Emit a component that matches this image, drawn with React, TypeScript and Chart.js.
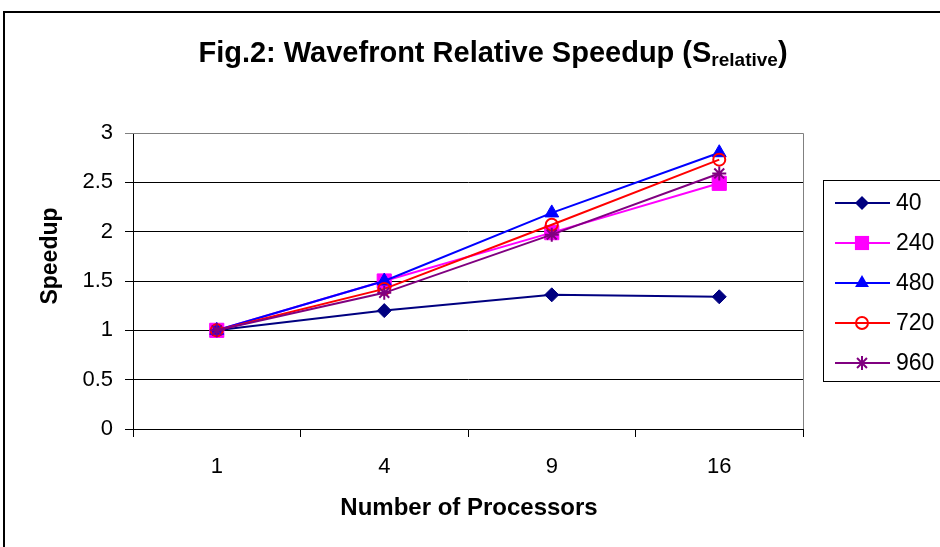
import React, { useEffect, useRef } from 'react';
import { Chart, registerables } from 'chart.js';

Chart.register(...registerables);

// ---- data ----
const categories = ['1', '4', '9', '16'];
const seriesNames = ['40', '240', '480', '720', '960'];
const s40 = [1, 1.2, 1.36, 1.34];
const s240 = [1, 1.5, 1.99, 2.49];
const s480 = [1, 1.5, 2.19, 2.8];
const s720 = [1, 1.42, 2.07, 2.73];
const s960 = [1, 1.38, 1.97, 2.59];
const seriesValues = [s40, s240, s480, s720, s960];
const seriesColors = ['#000080', '#FF00FF', '#0000FF', '#FF0000', '#800080'];
const seriesMarkers = ['rectRot', 'rect', 'triangle', 'circle', 'star'];
const seriesRadius = [7, 10, 8, 6, 7];
const yMin = 0;
const yMax = 3;
const yStep = 0.5;

const titleMain = 'Fig.2: Wavefront Relative Speedup (S';
const titleSub = 'relative';
const titleEnd = ')';
const xTitle = 'Number of Processors';
const yTitle = 'Speedup';

const FONT = '"Liberation Sans", Arial, sans-serif';

function drawMarker(ctx: CanvasRenderingContext2D, style: string, x: number, y: number, r: number, color: string) {
  ctx.save();
  ctx.strokeStyle = color;
  ctx.fillStyle = color;
  ctx.lineWidth = 2;
  ctx.beginPath();
  if (style === 'rectRot') {
    ctx.moveTo(x, y - r);
    ctx.lineTo(x + r, y);
    ctx.lineTo(x, y + r);
    ctx.lineTo(x - r, y);
    ctx.closePath();
    ctx.fill();
  } else if (style === 'rect') {
    const s = r * Math.SQRT1_2;
    ctx.rect(x - s, y - s, 2 * s, 2 * s);
    ctx.fill();
  } else if (style === 'triangle') {
    ctx.moveTo(x, y - r);
    ctx.lineTo(x + Math.sin((2 * Math.PI) / 3) * r, y - Math.cos((2 * Math.PI) / 3) * r);
    ctx.lineTo(x + Math.sin((4 * Math.PI) / 3) * r, y - Math.cos((4 * Math.PI) / 3) * r);
    ctx.closePath();
    ctx.fill();
  } else if (style === 'circle') {
    ctx.arc(x, y, r, 0, Math.PI * 2);
    ctx.stroke();
  } else if (style === 'star') {
    ctx.moveTo(x, y - r);
    ctx.lineTo(x, y + r);
    ctx.moveTo(x - r, y);
    ctx.lineTo(x + r, y);
    const d = r * Math.SQRT1_2;
    ctx.moveTo(x - d, y - d);
    ctx.lineTo(x + d, y + d);
    ctx.moveTo(x - d, y + d);
    ctx.lineTo(x + d, y - d);
    ctx.stroke();
  }
  ctx.restore();
}

const decorPlugin = {
  id: 'decor',
  beforeDraw(chart: any) {
    const ctx: CanvasRenderingContext2D = chart.ctx;
    ctx.save();
    ctx.fillStyle = '#ffffff';
    ctx.fillRect(0, 0, chart.width, chart.height);
    ctx.restore();
  },
  afterDraw(chart: any) {
    const ctx: CanvasRenderingContext2D = chart.ctx;
    const area = chart.chartArea;
    ctx.save();
    // plot area border (top/right grey)
    ctx.strokeStyle = '#808080';
    ctx.lineWidth = 1;
    ctx.beginPath();
    ctx.moveTo(area.left, area.top + 0.5);
    ctx.lineTo(area.right + 0.5, area.top + 0.5);
    ctx.lineTo(area.right + 0.5, area.bottom);
    ctx.stroke();

    // outer chart border
    ctx.strokeStyle = '#000000';
    ctx.lineWidth = 2;
    ctx.beginPath();
    ctx.moveTo(4, chart.height + 2);
    ctx.lineTo(4, 12);
    ctx.lineTo(chart.width + 2, 12);
    ctx.stroke();

    // title with subscript
    ctx.fillStyle = '#000000';
    ctx.textBaseline = 'alphabetic';
    ctx.textAlign = 'left';
    const mainFont = `bold 29px ${FONT}`;
    const subFont = `bold 19px ${FONT}`;
    ctx.font = mainFont;
    const w1 = ctx.measureText(titleMain).width;
    const w3 = ctx.measureText(titleEnd).width;
    ctx.font = subFont;
    const w2 = ctx.measureText(titleSub).width;
    const total = w1 + w2 + w3;
    let tx = 493 - total / 2;
    const ty = 62;
    ctx.font = mainFont;
    ctx.fillText(titleMain, tx, ty);
    tx += w1;
    ctx.font = subFont;
    ctx.fillText(titleSub, tx, ty + 4);
    tx += w2;
    ctx.font = mainFont;
    ctx.fillText(titleEnd, tx, ty);

    // axis titles
    ctx.textAlign = 'center';
    ctx.textBaseline = 'middle';
    ctx.font = `bold 24px ${FONT}`;
    ctx.fillText(xTitle, 469, 508);
    ctx.save();
    ctx.font = `bold 23px ${FONT}`;
    ctx.translate(51, 256);
    ctx.rotate(-Math.PI / 2);
    ctx.fillText(yTitle, 0, 0);
    ctx.restore();

    // legend
    ctx.strokeStyle = '#000000';
    ctx.lineWidth = 1;
    ctx.strokeRect(823.5, 180.5, 140, 201);
    ctx.font = `23px ${FONT}`;
    ctx.textAlign = 'left';
    ctx.textBaseline = 'middle';
    seriesNames.forEach((name, i) => {
      const y = 203 + i * 40;
      ctx.strokeStyle = seriesColors[i];
      ctx.lineWidth = 2;
      ctx.beginPath();
      ctx.moveTo(835, y);
      ctx.lineTo(890, y);
      ctx.stroke();
      drawMarker(ctx, seriesMarkers[i], 862, y, seriesRadius[i], seriesColors[i]);
      ctx.fillStyle = '#000000';
      ctx.fillText(name, 896, y + 1);
    });
    ctx.restore();
  },
};

export default function App() {
  const canvasRef = useRef<HTMLCanvasElement | null>(null);

  useEffect(() => {
    document.body.style.margin = '0';
    const canvas = canvasRef.current;
    if (!canvas) return;
    const datasets = seriesNames.map((name, i) => ({
      label: name,
      data: seriesValues[i],
      borderColor: seriesColors[i],
      backgroundColor: seriesColors[i],
      borderWidth: 2,
      pointStyle: seriesMarkers[i] as any,
      pointRadius: seriesRadius[i],
      pointBorderWidth: seriesMarkers[i] === 'circle' || seriesMarkers[i] === 'star' ? 2 : 1,
      pointBackgroundColor: seriesMarkers[i] === 'circle' ? 'rgba(0,0,0,0)' : seriesColors[i],
      pointBorderColor: seriesColors[i],
      tension: 0,
      fill: false,
      order: seriesNames.length - 1 - i,
    }));
    const chart = new Chart(canvas, {
      type: 'line',
      data: { labels: categories, datasets },
      options: {
        responsive: false,
        animation: false,
        layout: { padding: { top: 133, right: 137, bottom: 0, left: 0 } },
        plugins: {
          legend: { display: false },
          title: { display: false },
          tooltip: { enabled: false },
        },
        scales: {
          x: {
            type: 'category',
            offset: true,
            grid: {
              display: true,
              offset: true,
              drawOnChartArea: false,
              drawTicks: true,
              tickLength: 8,
              color: '#000000',
              lineWidth: 1,
            },
            border: { display: true, color: '#000000', width: 1 },
            ticks: {
              color: '#000000',
              font: { family: FONT, size: 22 },
              padding: 17,
              maxRotation: 0,
            },
            afterFit: (scale: any) => {
              scale.height = 118;
            },
          },
          y: {
            min: yMin,
            max: yMax,
            grid: {
              color: (c: any) => (c.tick && c.tick.value === yMax ? '#808080' : '#000000'),
              lineWidth: 1,
              drawTicks: true,
              tickLength: 8,
            },
            border: { display: true, color: '#000000', width: 1 },
            ticks: {
              stepSize: yStep,
              color: '#000000',
              font: { family: FONT, size: 22 },
              padding: 12,
              callback: (v: any) => String(Number(v)),
            },
            afterFit: (scale: any) => {
              scale.width = 133;
            },
          },
        },
      },
      plugins: [decorPlugin],
    });
    return () => chart.destroy();
  }, []);

  return <canvas ref={canvasRef} width={940} height={547} style={{ display: 'block' }} />;
}
